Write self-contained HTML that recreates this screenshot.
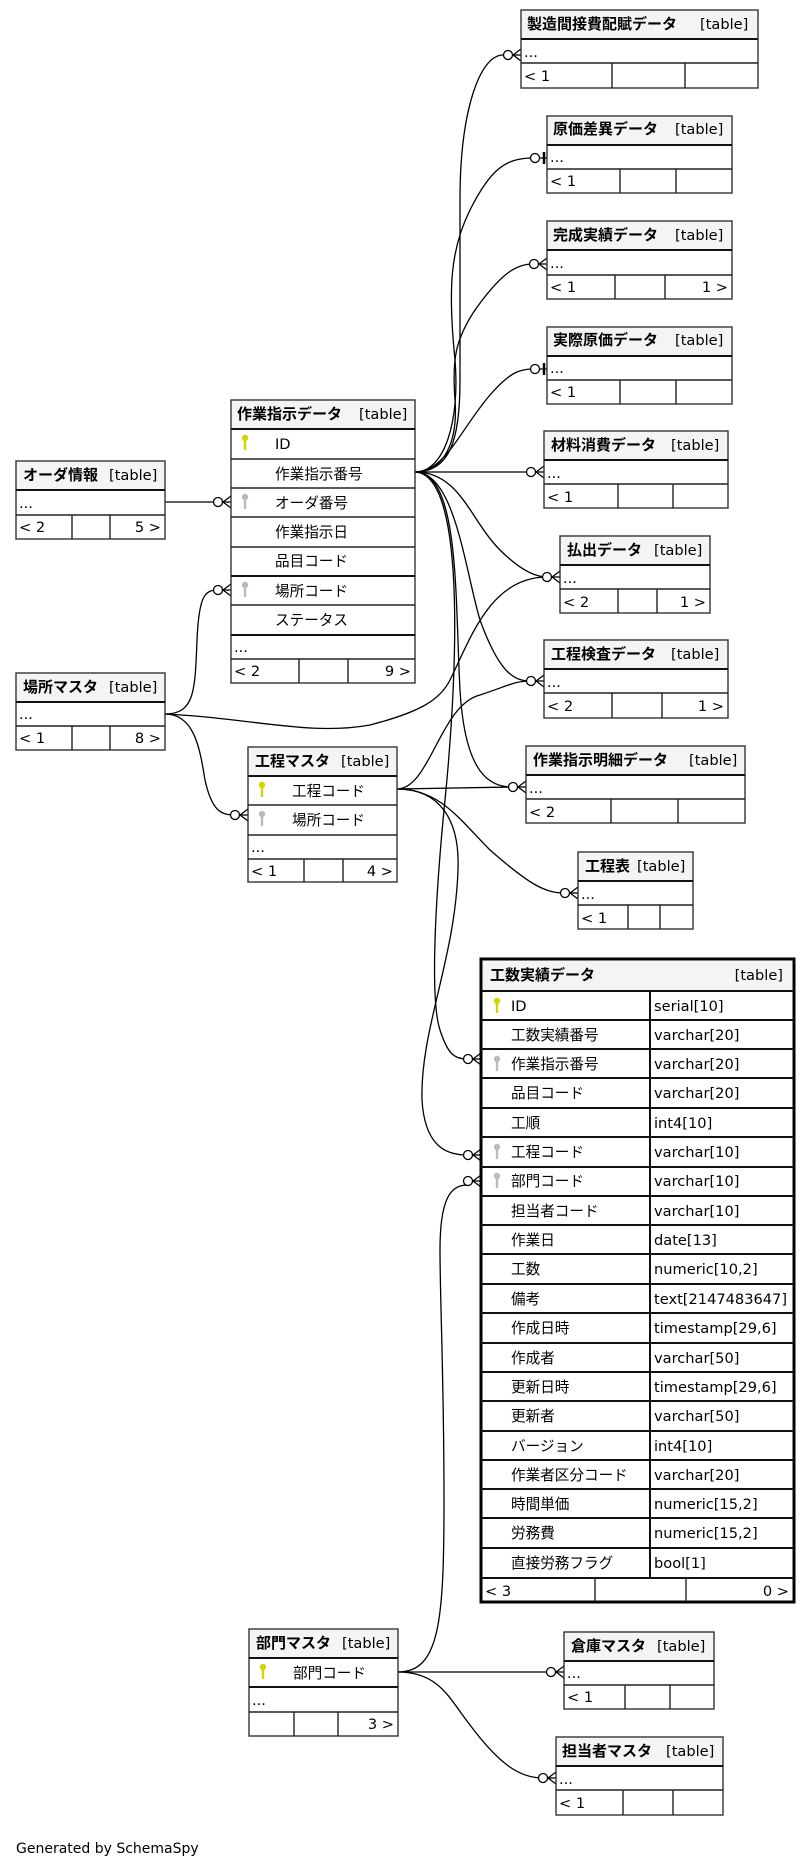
<!DOCTYPE html>
<html><head><meta charset="utf-8"><style>
html,body{margin:0;padding:0;background:#fff;}
svg{display:block;}
text{font-family:"DejaVu Sans","Noto Sans CJK JP",sans-serif;font-size:14.6px;fill:#000;}
.t{font-family:"Noto Sans CJK JP","DejaVu Sans",sans-serif;font-weight:bold;font-size:15px;}
.b{fill:#fff;stroke:#333;stroke-width:1.4;}
.h{fill:#f4f4f4;}
.l{stroke:#222;stroke-width:1.4;fill:none;}
.hl{stroke:#111;stroke-width:2;}
.c{fill:none;stroke:#000;stroke-width:1.3;}
.k{fill:#d4d400;}
.g{fill:#bbb;}
</style></head><body>
<svg width="809" height="1869" viewBox="0 0 809 1869" xmlns="http://www.w3.org/2000/svg">
<defs>
<g id="key"><circle cx="0" cy="0" r="3.2"/><rect x="-1.2" y="0" width="2.4" height="12"/></g>
<g id="crow"><line x1="-8" y1="0" x2="0" y2="-6" stroke="#000" stroke-width="1.3"/><line x1="-8" y1="0" x2="0" y2="0" stroke="#000" stroke-width="1.3"/><line x1="-8" y1="0" x2="0" y2="6" stroke="#000" stroke-width="1.3"/><circle cx="-13" cy="0" r="4.5" fill="#fff" stroke="#000" stroke-width="1.3"/></g>
<g id="one"><line x1="-3" y1="-6" x2="-3" y2="6" stroke="#000" stroke-width="2.5"/><line x1="-8" y1="0" x2="0" y2="0" stroke="#000" stroke-width="1.3"/><circle cx="-12" cy="0" r="4.5" fill="#fff" stroke="#000" stroke-width="1.3"/></g>
</defs>

<!-- connectors -->
<path class="c" d="M415,472 C450,472 460,440 460,380 L460,200 C460,110 480,55 503,55"/>
<path class="c" d="M415,472 C445,472 460,420 455,360 C448,290 450,250 470,210 C490,170 505,158 533,158"/>
<path class="c" d="M415,472 C445,472 458,440 455,400 C452,360 455,340 475,310 C500,275 515,264 533,264"/>
<path class="c" d="M415,472 C445,472 460,430 490,395 C510,372 520,369 533,369"/>
<path class="c" d="M415,472 L533,472"/>
<path class="c" d="M415,472 C460,472 470,520 500,550 C520,570 535,577 547,577"/>
<path class="c" d="M415,472 C455,472 465,570 480,620 C500,675 515,681 531,681"/>
<path class="c" d="M415,472 C460,472 455,600 460,690 C465,775 490,787 513,787"/>
<path class="c" d="M415,472 C470,474 455,700 445,800 C435,900 430,1000 440,1030 C448,1055 455,1059 467,1059"/>

<path class="c" d="M165,502 L218,502"/>
<path class="c" d="M165,714 C195,714 195,690 197,640 C199,595 205,590 218,590"/>
<path class="c" d="M165,714 C195,714 200,750 205,780 C212,812 222,815 235,815"/>
<path class="c" d="M165,714 C250,718 310,736 370,725 C420,712 440,700 450,680 C470,640 490,577 547,577"/>

<path class="c" d="M397,789 C430,789 440,705 480,695 C510,685 515,681 531,681"/>
<path class="c" d="M397,789 L513,787"/>
<path class="c" d="M397,789 C440,789 460,820 490,850 C530,885 545,893 565,893"/>
<path class="c" d="M397,789 C440,789 460,820 458,870 C455,960 420,1030 422,1100 C425,1150 450,1155 467,1155"/>

<path class="c" d="M398,1672 L551,1672"/>
<path class="c" d="M398,1672 C440,1672 450,1700 470,1725 C500,1765 520,1778 543,1778"/>
<path class="c" d="M398,1672 C440,1672 444,1620 444,1500 C444,1380 440,1300 440,1250 C440,1200 450,1185 467,1185"/>

<!-- markers -->
<use href="#crow" x="521" y="55"/>
<use href="#one" x="547" y="158"/>
<use href="#crow" x="547" y="264"/>
<use href="#one" x="547" y="369"/>
<use href="#crow" x="544" y="472"/>
<use href="#crow" x="560" y="577"/>
<use href="#crow" x="544" y="681"/>
<use href="#crow" x="526" y="787"/>
<use href="#crow" x="578" y="893"/>
<use href="#crow" x="231" y="502"/>
<use href="#crow" x="231" y="590"/>
<use href="#crow" x="248" y="815"/>
<use href="#crow" x="481" y="1059"/>
<use href="#crow" x="481" y="1155"/>
<use href="#crow" x="481" y="1181"/>
<use href="#crow" x="564" y="1672"/>
<use href="#crow" x="556" y="1778"/>

<!-- 製造間接費配賦データ -->
<rect class="b" x="521" y="10" width="237" height="78"/><rect class="h" x="522" y="11" width="235" height="28"/>
<line class="hl" x1="521" y1="39" x2="758" y2="39"/><line class="l" x1="521" y1="63" x2="758" y2="63"/>
<line class="l" x1="612" y1="63" x2="612" y2="88"/><line class="l" x1="685" y1="63" x2="685" y2="88"/>
<text class="t" x="527" y="29">製造間接費配賦データ</text><text x="700" y="29">[table]</text>
<text x="524" y="57">...</text><text x="524" y="81">&lt; 1</text>

<!-- 原価差異データ -->
<rect class="b" x="547" y="116" width="185" height="77"/><rect class="h" x="548" y="117" width="183" height="28"/>
<line class="hl" x1="547" y1="145" x2="732" y2="145"/><line class="l" x1="547" y1="169" x2="732" y2="169"/>
<line class="l" x1="620" y1="169" x2="620" y2="193"/><line class="l" x1="676" y1="169" x2="676" y2="193"/>
<text class="t" x="553" y="134">原価差異データ</text><text x="675" y="134">[table]</text>
<text x="550" y="162">...</text><text x="550" y="186">&lt; 1</text>

<!-- 完成実績データ -->
<rect class="b" x="547" y="221" width="185" height="78"/><rect class="h" x="548" y="222" width="183" height="28"/>
<line class="hl" x1="547" y1="250" x2="732" y2="250"/><line class="l" x1="547" y1="275" x2="732" y2="275"/>
<line class="l" x1="615" y1="275" x2="615" y2="299"/><line class="l" x1="665" y1="275" x2="665" y2="299"/>
<text class="t" x="553" y="240">完成実績データ</text><text x="675" y="240">[table]</text>
<text x="550" y="268">...</text><text x="550" y="292">&lt; 1</text><text x="728" y="292" text-anchor="end">1 &gt;</text>

<!-- 実際原価データ -->
<rect class="b" x="547" y="327" width="185" height="77"/><rect class="h" x="548" y="328" width="183" height="28"/>
<line class="hl" x1="547" y1="356" x2="732" y2="356"/><line class="l" x1="547" y1="380" x2="732" y2="380"/>
<line class="l" x1="620" y1="380" x2="620" y2="404"/><line class="l" x1="676" y1="380" x2="676" y2="404"/>
<text class="t" x="553" y="345">実際原価データ</text><text x="675" y="345">[table]</text>
<text x="550" y="373">...</text><text x="550" y="397">&lt; 1</text>

<!-- 材料消費データ -->
<rect class="b" x="544" y="431" width="184" height="77"/><rect class="h" x="545" y="432" width="182" height="28"/>
<line class="hl" x1="544" y1="460" x2="728" y2="460"/><line class="l" x1="544" y1="484" x2="728" y2="484"/>
<line class="l" x1="618" y1="484" x2="618" y2="508"/><line class="l" x1="673" y1="484" x2="673" y2="508"/>
<text class="t" x="551" y="450">材料消費データ</text><text x="671" y="450">[table]</text>
<text x="547" y="478">...</text><text x="547" y="502">&lt; 1</text>

<!-- 払出データ -->
<rect class="b" x="560" y="536" width="150" height="77"/><rect class="h" x="561" y="537" width="148" height="28"/>
<line class="hl" x1="560" y1="565" x2="710" y2="565"/><line class="l" x1="560" y1="589" x2="710" y2="589"/>
<line class="l" x1="618" y1="589" x2="618" y2="613"/><line class="l" x1="657" y1="589" x2="657" y2="613"/>
<text class="t" x="567" y="555">払出データ</text><text x="654" y="555">[table]</text>
<text x="563" y="583">...</text><text x="563" y="607">&lt; 2</text><text x="706" y="607" text-anchor="end">1 &gt;</text>

<!-- 工程検査データ -->
<rect class="b" x="544" y="640" width="184" height="78"/><rect class="h" x="545" y="641" width="182" height="28"/>
<line class="hl" x1="544" y1="669" x2="728" y2="669"/><line class="l" x1="544" y1="693" x2="728" y2="693"/>
<line class="l" x1="612" y1="693" x2="612" y2="718"/><line class="l" x1="662" y1="693" x2="662" y2="718"/>
<text class="t" x="551" y="659">工程検査データ</text><text x="671" y="659">[table]</text>
<text x="547" y="687">...</text><text x="547" y="711">&lt; 2</text><text x="724" y="711" text-anchor="end">1 &gt;</text>

<!-- 作業指示明細データ -->
<rect class="b" x="526" y="746" width="219" height="77"/><rect class="h" x="527" y="747" width="217" height="28"/>
<line class="hl" x1="526" y1="775" x2="745" y2="775"/><line class="l" x1="526" y1="799" x2="745" y2="799"/>
<line class="l" x1="611" y1="799" x2="611" y2="823"/><line class="l" x1="678" y1="799" x2="678" y2="823"/>
<text class="t" x="533" y="765">作業指示明細データ</text><text x="689" y="765">[table]</text>
<text x="529" y="793">...</text><text x="529" y="817">&lt; 2</text>

<!-- 工程表 -->
<rect class="b" x="578" y="852" width="115" height="77"/><rect class="h" x="579" y="853" width="113" height="28"/>
<line class="hl" x1="578" y1="881" x2="693" y2="881"/><line class="l" x1="578" y1="905" x2="693" y2="905"/>
<line class="l" x1="628" y1="905" x2="628" y2="929"/><line class="l" x1="660" y1="905" x2="660" y2="929"/>
<text class="t" x="585" y="871">工程表</text><text x="637" y="871">[table]</text>
<text x="581" y="899">...</text><text x="581" y="923">&lt; 1</text>

<!-- オーダ情報 -->
<rect class="b" x="16" y="461" width="149" height="78"/><rect class="h" x="17" y="462" width="147" height="28"/>
<line class="hl" x1="16" y1="490" x2="165" y2="490"/><line class="l" x1="16" y1="515" x2="165" y2="515"/>
<line class="l" x1="72" y1="515" x2="72" y2="539"/><line class="l" x1="110" y1="515" x2="110" y2="539"/>
<text class="t" x="23" y="480">オーダ情報</text><text x="109" y="480">[table]</text>
<text x="19" y="508">...</text><text x="19" y="532">&lt; 2</text><text x="161" y="532" text-anchor="end">5 &gt;</text>

<!-- 作業指示データ -->
<rect class="b" x="231" y="400" width="184" height="283"/><rect class="h" x="232" y="401" width="182" height="28"/>
<line class="hl" x1="231" y1="429" x2="415" y2="429"/>
<line class="l" x1="231" y1="459" x2="415" y2="459"/><line class="l" x1="231" y1="488" x2="415" y2="488"/>
<line class="l" x1="231" y1="517" x2="415" y2="517"/><line class="l" x1="231" y1="547" x2="415" y2="547"/>
<line class="hl" x1="231" y1="576" x2="415" y2="576"/><line class="l" x1="231" y1="605" x2="415" y2="605"/>
<line class="hl" x1="231" y1="635" x2="415" y2="635"/><line class="l" x1="231" y1="659" x2="415" y2="659"/>
<line class="l" x1="299" y1="659" x2="299" y2="683"/><line class="l" x1="348" y1="659" x2="348" y2="683"/>
<text class="t" x="237" y="419">作業指示データ</text><text x="359" y="419">[table]</text>
<use href="#key" class="k" x="245" y="438"/><text x="275" y="449">ID</text>
<text x="275" y="479">作業指示番号</text>
<use href="#key" class="g" x="245" y="497"/><text x="275" y="508">オーダ番号</text>
<text x="275" y="537">作業指示日</text>
<text x="275" y="566">品目コード</text>
<use href="#key" class="g" x="245" y="585"/><text x="275" y="596">場所コード</text>
<text x="275" y="625">ステータス</text>
<text x="234" y="652">...</text><text x="234" y="676">&lt; 2</text><text x="411" y="676" text-anchor="end">9 &gt;</text>

<!-- 場所マスタ -->
<rect class="b" x="16" y="673" width="149" height="77"/><rect class="h" x="17" y="674" width="147" height="28"/>
<line class="hl" x1="16" y1="702" x2="165" y2="702"/><line class="l" x1="16" y1="726" x2="165" y2="726"/>
<line class="l" x1="72" y1="726" x2="72" y2="750"/><line class="l" x1="110" y1="726" x2="110" y2="750"/>
<text class="t" x="23" y="692">場所マスタ</text><text x="109" y="692">[table]</text>
<text x="19" y="719">...</text><text x="19" y="743">&lt; 1</text><text x="161" y="743" text-anchor="end">8 &gt;</text>

<!-- 工程マスタ -->
<rect class="b" x="248" y="747" width="149" height="135"/><rect class="h" x="249" y="748" width="147" height="28"/>
<line class="hl" x1="248" y1="776" x2="397" y2="776"/><line class="l" x1="248" y1="805" x2="397" y2="805"/>
<line class="l" x1="248" y1="835" x2="397" y2="835"/><line class="l" x1="248" y1="859" x2="397" y2="859"/>
<line class="l" x1="304" y1="859" x2="304" y2="882"/><line class="l" x1="343" y1="859" x2="343" y2="882"/>
<text class="t" x="255" y="766">工程マスタ</text><text x="341" y="766">[table]</text>
<use href="#key" class="k" x="262" y="785"/><text x="292" y="796">工程コード</text>
<use href="#key" class="g" x="262" y="814"/><text x="292" y="825">場所コード</text>
<text x="251" y="852">...</text><text x="251" y="876">&lt; 1</text><text x="393" y="876" text-anchor="end">4 &gt;</text>

<!-- 工数実績データ -->
<rect x="481" y="959" width="313" height="643" fill="#fff" stroke="#000" stroke-width="3"/>
<rect class="h" x="483" y="961" width="309" height="29"/>
<line class="hl" x1="481" y1="991" x2="794" y2="991"/>
<g stroke="#111" stroke-width="2">
<line x1="481" y1="1020" x2="794" y2="1020"/><line x1="481" y1="1049" x2="794" y2="1049"/><line x1="481" y1="1078" x2="794" y2="1078"/>
<line x1="481" y1="1108" x2="794" y2="1108"/><line x1="481" y1="1137" x2="794" y2="1137"/><line x1="481" y1="1167" x2="794" y2="1167"/>
<line x1="481" y1="1196" x2="794" y2="1196"/><line x1="481" y1="1225" x2="794" y2="1225"/><line x1="481" y1="1254" x2="794" y2="1254"/>
<line x1="481" y1="1284" x2="794" y2="1284"/><line x1="481" y1="1313" x2="794" y2="1313"/><line x1="481" y1="1343" x2="794" y2="1343"/>
<line x1="481" y1="1372" x2="794" y2="1372"/><line x1="481" y1="1401" x2="794" y2="1401"/><line x1="481" y1="1431" x2="794" y2="1431"/>
<line x1="481" y1="1460" x2="794" y2="1460"/><line x1="481" y1="1489" x2="794" y2="1489"/><line x1="481" y1="1518" x2="794" y2="1518"/>
<line x1="481" y1="1548" x2="794" y2="1548"/><line x1="481" y1="1578" x2="794" y2="1578"/>
<line x1="650" y1="991" x2="650" y2="1578"/>
</g>
<line class="l" x1="595" y1="1578" x2="595" y2="1602"/><line class="l" x1="686" y1="1578" x2="686" y2="1602"/>
<text class="t" x="490" y="980">工数実績データ</text><text x="783" y="980" text-anchor="end">[table]</text>
<use href="#key" class="k" x="497" y="1001"/><text x="511" y="1011">ID</text><text x="654" y="1011">serial[10]</text>
<text x="511" y="1040">工数実績番号</text><text x="654" y="1040">varchar[20]</text>
<use href="#key" class="g" x="497" y="1059"/><text x="511" y="1069">作業指示番号</text><text x="654" y="1069">varchar[20]</text>
<text x="511" y="1098">品目コード</text><text x="654" y="1098">varchar[20]</text>
<text x="511" y="1128">工順</text><text x="654" y="1128">int4[10]</text>
<use href="#key" class="g" x="497" y="1147"/><text x="511" y="1157">工程コード</text><text x="654" y="1157">varchar[10]</text>
<use href="#key" class="g" x="497" y="1176"/><text x="511" y="1186">部門コード</text><text x="654" y="1186">varchar[10]</text>
<text x="511" y="1216">担当者コード</text><text x="654" y="1216">varchar[10]</text>
<text x="511" y="1245">作業日</text><text x="654" y="1245">date[13]</text>
<text x="511" y="1274">工数</text><text x="654" y="1274">numeric[10,2]</text>
<text x="511" y="1304">備考</text><text x="654" y="1304">text[2147483647]</text>
<text x="511" y="1333">作成日時</text><text x="654" y="1333">timestamp[29,6]</text>
<text x="511" y="1363">作成者</text><text x="654" y="1363">varchar[50]</text>
<text x="511" y="1392">更新日時</text><text x="654" y="1392">timestamp[29,6]</text>
<text x="511" y="1421">更新者</text><text x="654" y="1421">varchar[50]</text>
<text x="511" y="1451">バージョン</text><text x="654" y="1451">int4[10]</text>
<text x="511" y="1480">作業者区分コード</text><text x="654" y="1480">varchar[20]</text>
<text x="511" y="1509">時間単価</text><text x="654" y="1509">numeric[15,2]</text>
<text x="511" y="1538">労務費</text><text x="654" y="1538">numeric[15,2]</text>
<text x="511" y="1568">直接労務フラグ</text><text x="654" y="1568">bool[1]</text>
<text x="485" y="1596">&lt; 3</text><text x="789" y="1596" text-anchor="end">0 &gt;</text>

<!-- 部門マスタ -->
<rect class="b" x="249" y="1629" width="149" height="107"/><rect class="h" x="250" y="1630" width="147" height="28"/>
<line class="hl" x1="249" y1="1658" x2="398" y2="1658"/><line class="hl" x1="249" y1="1687" x2="398" y2="1687"/>
<line class="l" x1="249" y1="1712" x2="398" y2="1712"/>
<line class="l" x1="294" y1="1712" x2="294" y2="1736"/><line class="l" x1="338" y1="1712" x2="338" y2="1736"/>
<text class="t" x="256" y="1648">部門マスタ</text><text x="342" y="1648">[table]</text>
<use href="#key" class="k" x="263" y="1667"/><text x="293" y="1678">部門コード</text>
<text x="252" y="1705">...</text><text x="394" y="1729" text-anchor="end">3 &gt;</text>

<!-- 倉庫マスタ -->
<rect class="b" x="564" y="1632" width="150" height="77"/><rect class="h" x="565" y="1633" width="148" height="28"/>
<line class="hl" x1="564" y1="1661" x2="714" y2="1661"/><line class="l" x1="564" y1="1685" x2="714" y2="1685"/>
<line class="l" x1="625" y1="1685" x2="625" y2="1709"/><line class="l" x1="670" y1="1685" x2="670" y2="1709"/>
<text class="t" x="571" y="1651">倉庫マスタ</text><text x="657" y="1651">[table]</text>
<text x="567" y="1678">...</text><text x="567" y="1702">&lt; 1</text>

<!-- 担当者マスタ -->
<rect class="b" x="556" y="1737" width="167" height="78"/><rect class="h" x="557" y="1738" width="165" height="28"/>
<line class="hl" x1="556" y1="1766" x2="723" y2="1766"/><line class="l" x1="556" y1="1790" x2="723" y2="1790"/>
<line class="l" x1="623" y1="1790" x2="623" y2="1815"/><line class="l" x1="673" y1="1790" x2="673" y2="1815"/>
<text class="t" x="562" y="1756">担当者マスタ</text><text x="666" y="1756">[table]</text>
<text x="559" y="1784">...</text><text x="559" y="1808">&lt; 1</text>

<text x="16" y="1853" style="font-size:14px">Generated by SchemaSpy</text>
</svg>
</body></html>
